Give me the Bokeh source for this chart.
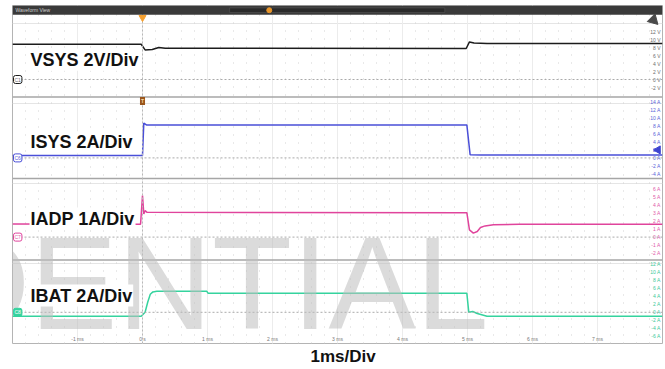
import math
from bokeh.plotting import figure
from bokeh.models import (Range1d, LinearAxis, FixedTicker, Grid, SingleIntervalTicker,
                          Span, Label, BoxAnnotation, PrintfTickFormatter, Title)
from bokeh.embed import file_html
from bokeh.resources import INLINE

# ---------------- data ----------------
time_ticks = [-1, 0, 1, 2, 3, 4, 5, 6, 7]          # ms
time_zero_label = "0 s"
trigger_time = 0.0

vsys_t = [-2.0, -0.02, 0.04, 0.15, 0.25, 0.35, 0.6, 4.98, 5.03, 5.1, 5.3, 8.0]
vsys_v = [8.8, 8.8, 7.4, 7.5, 8.0, 7.8, 7.8, 7.75, 9.4, 9.1, 9.0, 9.0]

isys_t = [-2.0, 0.0, 0.02, 0.06, 4.99, 5.04, 5.2, 8.0]
isys_v = [0.6, 0.6, 8.7, 8.25, 8.25, 0.8, 0.75, 0.75]

iadp_t = [-2.0, -0.03, 0.0, 0.02, 0.04, 0.07, 4.99, 5.03, 5.09, 5.15, 5.2, 5.27, 5.4, 5.8, 8.0]
iadp_v = [1.65, 1.6, 5.2, 2.9, 3.3, 3.1, 3.05, 0.9, 0.5, 0.7, 1.2, 1.4, 1.55, 1.6, 1.6]

ibat_t = [-2.0, -0.02, 0.04, 0.08, 0.12, 0.16, 0.22, 0.99, 1.01, 4.99, 5.02, 5.08, 5.15, 5.3, 8.0]
ibat_v = [-1.0, -1.0, 0.0, 2.5, 4.5, 5.1, 5.25, 5.25, 4.75, 4.75, 0.0, 0.2, -0.3, -1.0, -1.0]

vsys_ticks = [12, 10, 8, 6, 4, 2, 0, -2]
isys_ticks = [14, 12, 10, 8, 6, 4, 2, 0, -2, -4]
iadp_ticks = [6, 5, 4, 3, 2, 1, 0, -1, -2]
ibat_ticks = [12, 10, 8, 6, 4, 2, 0, -2, -4, -6]

channel_titles = ["VSYS 2V/Div", "ISYS 2A/Div", "IADP 1A/Div", "IBAT 2A/Div"]
channel_tags = ["C1", "C6", "C7", "C8"]
channel_units = ["V", "A", "A", "A"]
channel_per_div = [2.0, 2.0, 1.0, 2.0]
isys_trigger_level = 2.0

window_title = "Waveform View"
x_axis_title = "1ms/Div"
watermark = "DENTIAL"

# ---------------- layout / style ----------------
FONT = "Liberation Sans"
W, H = 665, 369
Y_DIVS = 42.25            # frame height in graticule divisions (8 px each)
X0, X1 = -2.0, 8.0

p = figure(width=W, height=H, output_backend="svg", toolbar_location=None,
           x_range=Range1d(X0, X1), y_range=Range1d(0, Y_DIVS),
           x_axis_location=None, y_axis_location=None,
           min_border_left=12, min_border_right=3, min_border_top=5, min_border_bottom=26)
p.outline_line_color = "#b4b4b4"
p.outline_line_width = 1
p.background_fill_color = "white"
p.border_fill_color = "white"

# graticule
p.add_layout(Grid(dimension=0, ticker=SingleIntervalTicker(interval=1, num_minor_ticks=5),
                  grid_line_color="#ececec", grid_line_width=1,
                  minor_grid_line_color="#d2d2d2", minor_grid_line_dash="1 7"))

keys = ["vsys", "isys", "iadp", "ibat"]
series = [(vsys_t, vsys_v), (isys_t, isys_v), (iadp_t, iadp_v), (ibat_t, ibat_v)]
ticks_all = [vsys_ticks, isys_ticks, iadp_ticks, ibat_ticks]
colors = ["#1c1c1c", "#4a4fd8", "#e0449c", "#35d39e"]
label_colors = ["#6e6e6e", "#5a5fd8", "#e05aa8", "#3cc99a"]
zero_div = [33.0, 23.2, 13.3, 3.9]
title_mid = [35.46, 25.17, 15.61, 6.0]

p.extra_y_ranges = {k: Range1d(-z * d, (Y_DIVS - z) * d)
                    for k, z, d in zip(keys, zero_div, channel_per_div)}

# panel separators
for loc in [30.81, 20.63, 10.44]:
    p.add_layout(Span(location=loc, dimension="width", line_color="#a6a6a6", line_width=1.5))

# trigger time line
p.add_layout(Span(location=trigger_time, dimension="height", line_color="#b8b8b8",
                  line_dash="2 2", line_width=1))

for i, k in enumerate(keys):
    t, v = series[i]
    # ground reference
    p.add_layout(Span(location=0, dimension="width", y_range_name=k,
                      line_color="#aaaaaa", line_dash="2 2", line_width=1))
    p.line(t, v, y_range_name=k, line_color=colors[i], line_width=1.5)
    ax = LinearAxis(y_range_name=k, ticker=FixedTicker(ticks=ticks_all[i]),
                    formatter=PrintfTickFormatter(format="%d " + channel_units[i]),
                    fixed_location=X1, axis_line_color=None,
                    major_tick_line_color=None, minor_tick_line_color=None,
                    major_tick_out=0, major_tick_in=0,
                    major_label_standoff=2, major_label_text_font=FONT,
                    major_label_text_font_size="5px", major_label_text_color=label_colors[i])
    p.add_layout(ax, "left")

# trigger level arrow on ISYS
p.scatter([7.93], [isys_trigger_level], y_range_name="isys", marker="triangle",
          angle=math.pi / 2, size=8, color="#3f44d0", level="overlay")

# time axis inside the bottom of the screen
xa = LinearAxis(ticker=FixedTicker(ticks=time_ticks),
                formatter=PrintfTickFormatter(format="%d ms"),
                major_label_overrides={0: time_zero_label},
                fixed_location=0, axis_line_color=None,
                major_tick_line_color=None, minor_tick_line_color=None,
                major_tick_out=0, major_tick_in=0, major_label_standoff=2,
                major_label_text_font=FONT, major_label_text_font_size="5px",
                major_label_text_color="#777777")
p.add_layout(xa, "above")

# watermark (overlaid on the screenshot)
p.add_layout(Label(x=-3.185, y=7.44, text=watermark, text_font=FONT, text_font_size="131px",
                   text_color="#bdbdbd", text_alpha=0.55, text_baseline="middle"))

# channel titles and ground tags
for i, k in enumerate(keys):
    p.add_layout(Label(x=-1.738, y=title_mid[i], text=channel_titles[i], text_font=FONT,
                       text_font_size="18px", text_font_style="bold", text_color="#111111",
                       text_baseline="middle", background_fill_color="white",
                       padding=1))
    filled = (i == 3)
    p.add_layout(Label(x=X0, y=0, y_range_name=k, x_offset=1, text=channel_tags[i],
                       text_font=FONT, text_font_size="5px",
                       text_color="white" if filled else label_colors[i],
                       text_align="left", text_baseline="middle",
                       border_line_color=colors[i], border_line_width=1,
                       background_fill_color=colors[i] if filled else "white",
                       padding=1, border_radius=2))

# title bar
p.add_layout(BoxAnnotation(left=X0, right=X1, bottom=41.1, top=Y_DIVS,
                           fill_color="#3a3a3a", fill_alpha=1, line_color=None))
p.add_layout(BoxAnnotation(left=1.34, right=4.65, bottom=41.38, top=41.94,
                           fill_color="#2a2a2a", fill_alpha=1,
                           line_color="#8c8c8c", line_width=0.8))
p.add_layout(Label(x=X0, y=41.68, x_offset=3, text=window_title, text_font=FONT,
                   text_font_size="5px", text_color="#cfcfcf", text_baseline="middle"))
p.scatter([1.95], [41.66], marker="circle", size=5, color="#e8952a", level="overlay")
p.scatter([trigger_time], [40.75], marker="inverted_triangle", size=7,
          color="#f5a030", level="overlay")
p.scatter([7.86], [40.45], marker="triangle", angle=-3 * math.pi / 4, size=11,
          color="#4a4a4a", level="overlay")
p.add_layout(Label(x=trigger_time, y=30.3, text="T", text_font=FONT, text_font_size="5px",
                   text_font_style="bold", text_color="#f6d6a8", text_align="center",
                   text_baseline="middle", background_fill_color="#9a561c", padding=1))

p.add_layout(Title(text=x_axis_title, align="left", offset=298, text_font=FONT,
                   text_font_size="17px", text_font_style="bold", text_color="#111111",
                   standoff=2), "below")

open("out.html", "w").write(file_html(p, INLINE))
